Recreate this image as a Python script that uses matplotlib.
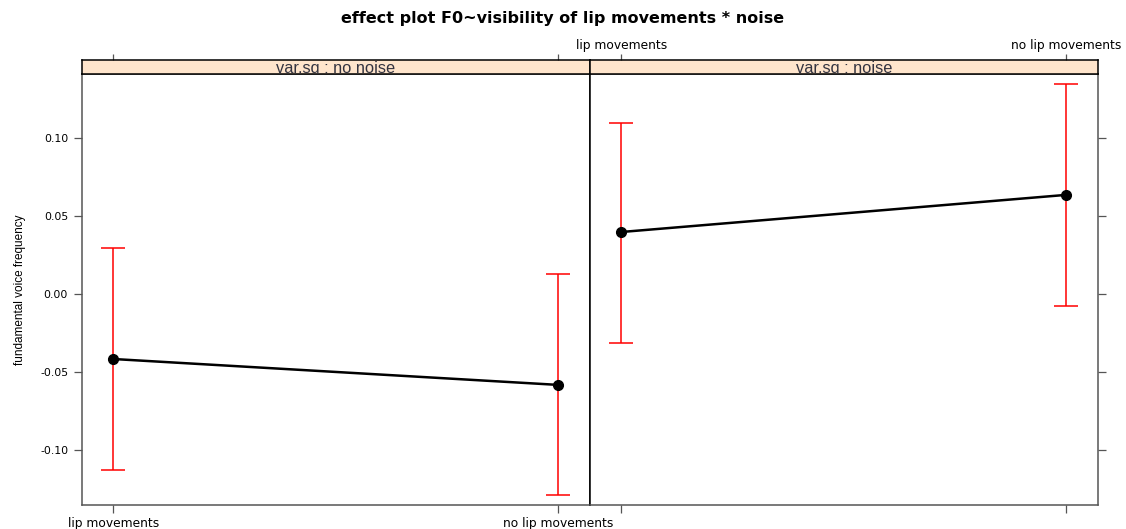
import matplotlib.pyplot as plt

# effect estimates
levels = ['lip movements', 'no lip movements']
panels = ['var.sq : no noise', 'var.sq : noise']
fit_no_noise = [-0.0417, -0.0583]
lower_no_noise = [-0.1128, -0.1288]
upper_no_noise = [0.0295, 0.0128]
fit_noise = [0.0397, 0.0635]
lower_noise = [-0.0314, -0.0077]
upper_noise = [0.1096, 0.1346]
yticks = [-0.10, -0.05, 0.00, 0.05, 0.10]

W, H = 1126, 529
fig = plt.figure(figsize=(W / 100, H / 100), dpi=100)

frame_col = '#555555'
strip_col = '#FFE5CC'
xs = [0, 1]
xlim = (-0.07, 1.072)
ylim = (-0.1353, 0.141)

left_px = [82, 590]
panel_w = 508
for i, (fit, lo, hi) in enumerate([(fit_no_noise, lower_no_noise, upper_no_noise),
                                   (fit_noise, lower_noise, upper_noise)]):
    x0 = left_px[i] / W
    ax = fig.add_axes([x0, 1 - 505 / H, panel_w / W, (505 - 74) / H])
    strip = fig.add_axes([x0, 1 - 74 / H, panel_w / W, 14 / H])

    yerr = [[f - l for f, l in zip(fit, lo)], [h - f for f, h in zip(fit, hi)]]
    ax.errorbar(xs, fit, yerr=yerr, fmt='none', ecolor='red', elinewidth=1.1,
                capsize=8.5, capthick=1.1, zorder=2)
    ax.plot(xs, fit, color='black', lw=1.8, marker='o', ms=7, zorder=3)
    ax.set_xlim(*xlim)
    ax.set_ylim(*ylim)
    ax.set_xticks(xs)
    ax.set_yticks(yticks)
    ax.tick_params(axis='x', direction='out', length=6, width=0.9, color=frame_col,
                   labelsize=8.8, pad=3)
    ax.tick_params(axis='y', direction='out', length=6, width=0.9, color=frame_col,
                   labelsize=7.8, pad=4)

    strip.set_xlim(*xlim)
    strip.set_ylim(0, 1)
    strip.set_facecolor(strip_col)
    strip.set_yticks([])
    strip.text(0.5, 0.1, panels[i], transform=strip.transAxes, ha='center',
               va='baseline', fontsize=11.8, color='#333340',
               family='Liberation Sans', clip_on=True)
    strip.xaxis.tick_top()
    strip.set_xticks(xs)
    strip.tick_params(axis='x', direction='out', length=4.5, width=0.9,
                      color=frame_col, labelsize=8.8, pad=1)

    if i == 0:
        ax.set_xticklabels(levels)
        ax.set_yticklabels([f'{v:.2f}' for v in yticks])
        strip.set_xticklabels(['', ''])
        ax.spines['right'].set_color('black')
        strip.spines['right'].set_color('black')
        for s in ['left', 'bottom', 'top']:
            ax.spines[s].set_color(frame_col)
        ax.set_ylabel('fundamental voice frequency', fontsize=8.5,
                      family=['Liberation Sans Narrow', 'Liberation Sans'], labelpad=10)
    else:
        ax.set_xticklabels(['', ''])
        ax.yaxis.tick_right()
        ax.set_yticklabels([])
        strip.set_xticklabels(levels)
        ax.spines['left'].set_color('black')
        strip.spines['left'].set_color('black')
        for s in ['right', 'bottom', 'top']:
            ax.spines[s].set_color(frame_col)
    for s in ax.spines.values():
        s.set_linewidth(1.1)
    for s in strip.spines.values():
        s.set_linewidth(1.1)

fig.text(0.5, 1 - 18 / H, 'effect plot F0~visibility of lip movements * noise',
         ha='center', va='center', fontsize=11.5, fontweight='bold')

fig.savefig('out.png', dpi=100)
plt.close(fig)
